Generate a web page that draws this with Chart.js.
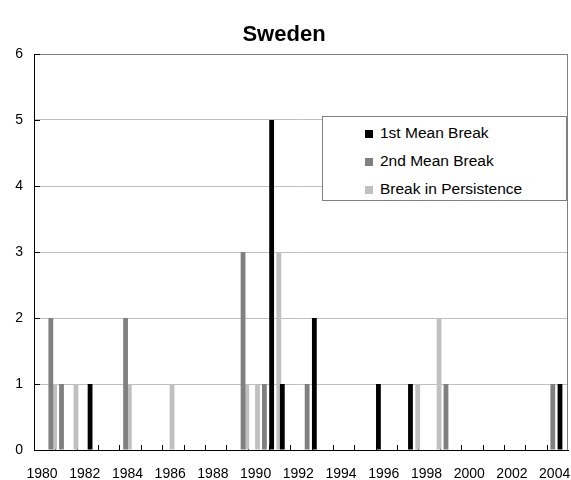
<!DOCTYPE html>
<html>
<head>
<meta charset="utf-8">
<script src="https://cdn.jsdelivr.net/npm/chart.js@4/dist/chart.umd.min.js"></script>
<style>
  body { margin: 0; background: #fff; }
  #wrap { position: relative; width: 571px; height: 480px; }
  #legend {
    position: absolute; left: 322px; top: 116px; width: 245px; height: 85px;
    box-sizing: border-box; border: 1px solid #808080; background: #fff;
    padding: 2px 0 0 42px;
    font: 15.5px "Liberation Sans", Arial, sans-serif; color: #000;
  }
  #legend div { height: 28px; line-height: 28px; white-space: nowrap; }
  #legend span { display: inline-block; width: 8px; height: 8px; margin-right: 7px; vertical-align: 0; }
</style>
</head>
<body>
<div id="wrap">
  <canvas id="chart" width="571" height="480"></canvas>
  <div id="legend"></div>
</div>
<script>
// quarterly categories, 1979Q4 .. 2004Q3
const quarters = [];
for (let yr = 1979; yr <= 2004; yr++) {
  for (let q = 1; q <= 4; q++) quarters.push(yr + 'Q' + q);
}
quarters.splice(0, 3);
quarters.splice(100);

const yearTicks = ['1980', '1982', '1984', '1986', '1988', '1990', '1992',
                   '1994', '1996', '1998', '2000', '2002', '2004'];

// number of breaks dated in each quarter
const firstMeanDates = ['1982Q2', '1990Q4', '1991Q2', '1992Q4', '1995Q4', '1997Q2', '2004Q2'];
const firstMeanCounts = [1, 5, 1, 2, 1, 1, 1];

const secondMeanDates = ['1980Q3', '1981Q1', '1984Q1', '1989Q3', '1990Q3', '1992Q3', '1999Q1', '2004Q1'];
const secondMeanCounts = [2, 1, 2, 3, 1, 1, 1, 1];

const persistDates = ['1980Q3', '1981Q3', '1984Q1', '1986Q1', '1989Q3', '1990Q1', '1991Q1', '1997Q3', '1998Q3'];
const persistCounts = [1, 1, 1, 1, 1, 1, 3, 1, 2];

function toSeries(dates, counts) {
  return quarters.map(q => {
    const i = dates.indexOf(q);
    return i < 0 ? null : counts[i];
  });
}

const font = { family: '"Liberation Sans", Arial, sans-serif', size: 14 };

// grey plot frame plus the short inward tick marks of the axes
const frame = {
  id: 'frame',
  beforeDatasetsDraw(chart) {
    const { ctx, chartArea: a, scales: { x, y } } = chart;
    ctx.save();
    ctx.lineWidth = 1;
    ctx.strokeStyle = '#808080';
    ctx.beginPath();
    ctx.moveTo(a.left, a.top + 0.5);
    ctx.lineTo(a.right - 0.5, a.top + 0.5);
    ctx.lineTo(a.right - 0.5, a.bottom);
    ctx.stroke();

    ctx.strokeStyle = '#000';
    ctx.beginPath();
    for (let i = 4; i < quarters.length; i += 4) {
      const px = Math.round(x.getPixelForValue(i - 0.5)) + 0.5;
      ctx.moveTo(px, a.bottom);
      ctx.lineTo(px, a.bottom - 5);
    }
    y.ticks.forEach(t => {
      const py = Math.round(y.getPixelForValue(t.value)) + 0.5;
      ctx.moveTo(a.left, py);
      ctx.lineTo(a.left + 6, py);
    });
    ctx.stroke();
    ctx.restore();
  }
};

const chart = new Chart(document.getElementById('chart'), {
  type: 'bar',
  data: {
    labels: quarters,
    datasets: [
      { label: '1st Mean Break', data: toSeries(firstMeanDates, firstMeanCounts),
        backgroundColor: '#000000', order: 1 },
      { label: '2nd Mean Break', data: toSeries(secondMeanDates, secondMeanCounts),
        backgroundColor: '#808080', order: 0 },
      { label: 'Break in Persistence', data: toSeries(persistDates, persistCounts),
        backgroundColor: '#c0c0c0', order: 2 }
    ]
  },
  options: {
    responsive: false,
    animation: false,
    events: [],
    layout: { padding: { left: 0, right: 3, top: 0, bottom: 0 } },
    datasets: {
      bar: { categoryPercentage: 1.05, barPercentage: 2.57, borderWidth: 0 }
    },
    plugins: {
      legend: { display: false },
      tooltip: { enabled: false },
      title: {
        display: true,
        text: 'Sweden',
        color: '#000',
        font: { family: font.family, size: 22, weight: 'bold' },
        padding: { top: 21.5, bottom: 6.1 }
      }
    },
    scales: {
      x: {
        grid: { display: false, drawTicks: false },
        border: { color: '#000', width: 1 },
        afterFit(scale) {
          scale.height = 30;
          scale.paddingLeft = 0;
          scale.paddingRight = 0;
        },
        ticks: {
          autoSkip: false,
          maxRotation: 0,
          minRotation: 0,
          padding: 16,
          color: '#000',
          font: font,
          callback(value, index) {
            const q = quarters[index];
            const yr = q.slice(0, 4);
            return q.endsWith('Q1') && yearTicks.includes(yr) ? yr : null;
          }
        }
      },
      y: {
        min: 0,
        max: 6,
        afterFit(scale) { scale.width = 34; },
        border: { color: '#000', width: 1 },
        grid: {
          drawTicks: false,
          color: ctx => ctx.tick && ctx.tick.value === 6 ? '#808080' : '#c0c0c0'
        },
        ticks: { stepSize: 1, padding: 11, color: '#000', font: font }
      }
    }
  },
  plugins: [frame]
});

// legend box inside the plot
document.getElementById('legend').innerHTML = chart.data.datasets.map(ds =>
  '<div><span style="background:' + ds.backgroundColor + '"></span>' + ds.label + '</div>'
).join('');
</script>
</body>
</html>
